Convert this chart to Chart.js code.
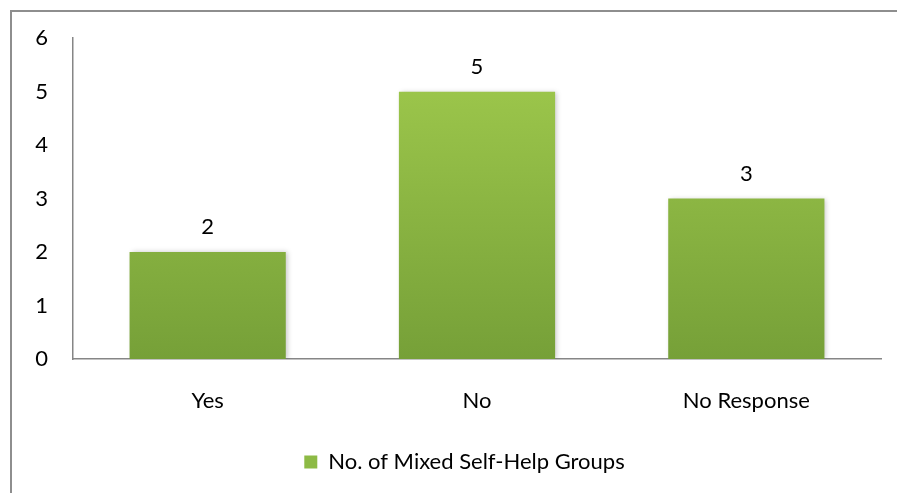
<!DOCTYPE html>
<html>
<head>
<meta charset="utf-8">
<script src="https://cdn.jsdelivr.net/npm/chart.js@4/dist/chart.umd.min.js"></script>
<style>
  html, body { margin: 0; padding: 0; background: #ffffff; }
  #wrap { position: relative; width: 897px; height: 493px; }
</style>
</head>
<body>
<div id="wrap"><canvas id="c" width="897" height="493"></canvas></div>
<script>
// Responses to the mixed self-help group question
const categories = ['Yes', 'No', 'No Response'];
const groupCounts = [2, 5, 3];
const seriesName = 'No. of Mixed Self-Help Groups';
const yTicks = [0, 1, 2, 3, 4, 5, 6];

const FONT = 'Lato, "Open Sans", sans-serif';
const FONT_SIZE = 22;
const PLOT_BOTTOM = 359;
const LEGEND_LEFT = 48;

// Vertical green gradient spanning each bar
function barFill(ctx) {
  const chart = ctx.chart;
  const area = chart.chartArea;
  if (!area) return '#8cb744';
  const g = chart.ctx.createLinearGradient(0, area.top, 0, area.bottom);
  g.addColorStop(0, '#a2cc4e');
  g.addColorStop(1, '#76a038');
  return g;
}

// Outer frame of the chart object
const framePlugin = {
  id: 'frame',
  afterDraw(chart) {
    const c = chart.ctx;
    c.save();
    c.strokeStyle = '#8e8e8e';
    c.lineWidth = 2;
    c.beginPath();
    c.moveTo(11, 500);
    c.lineTo(11, 11);
    c.lineTo(905, 11);
    c.stroke();
    c.restore();
  }
};

// Centre the legend under the whole frame rather than the canvas edge
const legendShift = {
  id: 'legendShift',
  afterLayout(chart) {
    const lg = chart.legend;
    if (lg) {
      lg.left = LEGEND_LEFT;
      lg.right = chart.chartArea.right;
    }
  }
};

// Soft drop shadow behind bars
const shadowPlugin = {
  id: 'barShadow',
  beforeDatasetDraw(chart) {
    const c = chart.ctx;
    c.save();
    c.shadowColor = 'rgba(0,0,0,0.22)';
    c.shadowBlur = 5;
    c.shadowOffsetX = 2;
    c.shadowOffsetY = 0;
  },
  afterDatasetDraw(chart) {
    chart.ctx.restore();
  }
};

// Value labels above each bar
const valueLabels = {
  id: 'valueLabels',
  afterDatasetsDraw(chart) {
    const c = chart.ctx;
    const meta = chart.getDatasetMeta(0);
    c.save();
    c.fillStyle = '#000000';
    c.font = FONT_SIZE + 'px ' + FONT;
    c.textAlign = 'center';
    c.textBaseline = 'middle';
    meta.data.forEach((bar, i) => {
      c.fillText(String(chart.data.datasets[0].data[i]), bar.x, bar.y - 25);
    });
    c.restore();
  }
};

new Chart(document.getElementById('c'), {
  type: 'bar',
  data: {
    labels: categories,
    datasets: [{
      label: seriesName,
      data: groupCounts,
      backgroundColor: barFill,
      borderWidth: 0,
      barPercentage: 0.58,
      categoryPercentage: 1.0
    }]
  },
  options: {
    responsive: false,
    animation: false,
    devicePixelRatio: 1,
    layout: { padding: { top: 38, right: 16, left: 0, bottom: 10 } },
    scales: {
      x: {
        grid: { display: false, drawTicks: false },
        border: { display: true, color: '#868686', width: 1.5 },
        ticks: { color: '#000000', font: { family: FONT, size: FONT_SIZE }, padding: 29 },
        afterFit(scale) {
          const lg = scale.chart.legend;
          const lh = lg && lg.height ? lg.height : 0;
          scale.height = 493 - 10 - lh - PLOT_BOTTOM;
        }
      },
      y: {
        min: 0,
        max: 6,
        afterBuildTicks(scale) { scale.ticks = yTicks.map(v => ({ value: v })); },
        grid: { display: false, drawTicks: false },
        border: { display: true, color: '#868686', width: 1.5 },
        ticks: { color: '#000000', font: { family: FONT, size: FONT_SIZE }, padding: 25 },
        afterFit(scale) { scale.width = 73; }
      }
    },
    plugins: {
      legend: {
        position: 'bottom',
        labels: {
          color: '#000000',
          font: { family: FONT, size: FONT_SIZE },
          boxWidth: 13,
          boxHeight: 13,
          padding: 10,
          generateLabels(chart) {
            return [{
              text: seriesName,
              fillStyle: '#8dba45',
              strokeStyle: '#8dba45',
              lineWidth: 0,
              datasetIndex: 0
            }];
          }
        }
      },
      tooltip: { enabled: false }
    }
  },
  plugins: [framePlugin, legendShift, shadowPlugin, valueLabels]
});
</script>
</body>
</html>
